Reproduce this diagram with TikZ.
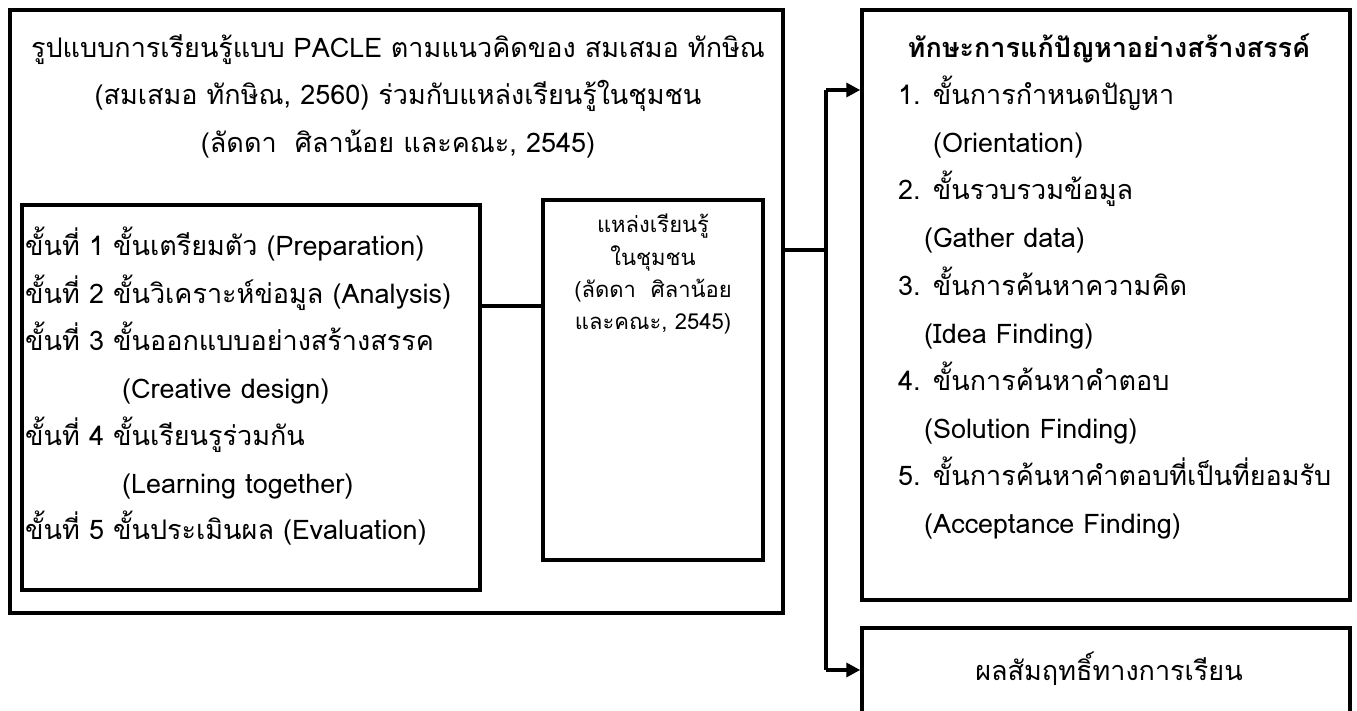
\documentclass[tikz,border=0pt]{standalone}
\usepackage{fontspec}
\setmainfont{Loma}[Script=Thai]
\usetikzlibrary{arrows.meta}

\tikzset{
  box/.style={draw, line width=3.5pt, inner sep=0pt},
  line/.style={line width=3.5pt},
  arr/.style={line width=3.5pt, -{Triangle[length=14pt,width=14pt]}},
  big/.style={font=\fontsize{27}{47}\selectfont, inner sep=0pt},
  small/.style={font=\fontsize{22}{32}\selectfont, inner sep=0pt},
}

\begin{document}
\begin{tikzpicture}[x=1pt, y=-1pt]

\useasboundingbox (0,0) rectangle (1357,711);

% boxes
\node[box, minimum width=773, minimum height=603] (model)  at (396.5,311.5) {};
\node[box, minimum width=458, minimum height=385] (steps)  at (251,397.5) {};
\node[box, minimum width=220, minimum height=360] (source) at (653,380) {};
\node[box, minimum width=488, minimum height=590] (skills) at (1106,305) {};
\node[box, minimum width=488, minimum height=200] (result) at (1106,728) {};

% title of the model
\node[big, anchor=base] (t1) at (398,58)  {รูปแบบการเรียนรู้แบบ PACLE ตามแนวคิดของ สมเสมอ ทักษิณ};
\node[big, anchor=base] (t2) at (398,105) {(สมเสมอ ทักษิณ, 2560) ร่วมกับแหล่งเรียนรู้ในชุมชน};
\node[big, anchor=base] (t3) at (398,153) {(ลัดดา\ \ ศิลาน้อย และคณะ, 2545)};

% steps of PACLE
\node[big, anchor=base west] (s1)  at (25,256)  {ขั้นที่ 1 ขั้นเตรียมตัว (Preparation)};
\node[big, anchor=base west] (s2)  at (25,303)  {ขั้นที่ 2 ขั้นวิเคราะห์ข่อมูล (Analysis)};
\node[big, anchor=base west] (s3)  at (25,350)  {ขั้นที่ 3 ขั้นออกแบบอย่างสร้างสรรค};
\node[big, anchor=base west] (s3e) at (122,398) {(Creative design)};
\node[big, anchor=base west] (s4)  at (25,445)  {ขั้นที่ 4 ขั้นเรียนรูร่วมกัน};
\node[big, anchor=base west] (s4e) at (122,493) {(Learning together)};
\node[big, anchor=base west] (s5)  at (25,539)  {ขั้นที่ 5 ขั้นประเมินผล (Evaluation)};

% community learning source
\node[small, anchor=base] (c1) at (653,233) {แหล่งเรียนรู้};
\node[small, anchor=base] (c2) at (653,266) {ในชุมชน};
\node[small, anchor=base] (c3) at (653,298) {(ลัดดา\ \ ศิลาน้อย};
\node[small, anchor=base] (c4) at (653,330) {และคณะ, 2545)};

% creative problem solving
\node[big, anchor=base, font=\fontsize{27}{47}\selectfont\bfseries] (k0) at (1109,58) {ทักษะการแก้ปัญหาอย่างสร้างสรรค์};
\node[big, anchor=base west] (k1)  at (898,105) {1. ขั้นการกำหนดปัญหา};
\node[big, anchor=base west] (k1e) at (933,153) {(Orientation)};
\node[big, anchor=base west] (k2)  at (898,200) {2. ขั้นรวบรวมข้อมูล};
\node[big, anchor=base west] (k2e) at (924,248) {(Gather data)};
\node[big, anchor=base west] (k3)  at (898,295) {3. ขั้นการค้นหาความคิด};
\node[big, anchor=base west] (k3e) at (924,343) {(Idea Finding)};
\node[big, anchor=base west] (k4)  at (898,390) {4. ขั้นการค้นหาคำตอบ};
\node[big, anchor=base west] (k4e) at (924,438) {(Solution Finding)};
\node[big, anchor=base west] (k5)  at (898,485) {5. ขั้นการค้นหาคำตอบที่เป็นที่ยอมรับ};
\node[big, anchor=base west] (k5e) at (924,533) {(Acceptance Finding)};

% learning achievement
\node[big, anchor=base] (r1) at (1109,680) {ผลสัมฤทธิ์ทางการเรียน};

% connectors
\coordinate (link)  at (0,306);
\coordinate (split) at (826,250);
\coordinate (hi)    at (826,90);
\coordinate (lo)    at (826,670);

\draw[line] (steps.east |- link) -- (source.west |- link);
\draw[line] (model.east |- split) -- (split);
\draw[line] (hi) -- (lo);
\draw[arr] (hi) -- (skills.west |- hi);
\draw[arr] (lo) -- (result.west |- lo);

\end{tikzpicture}
\end{document}
